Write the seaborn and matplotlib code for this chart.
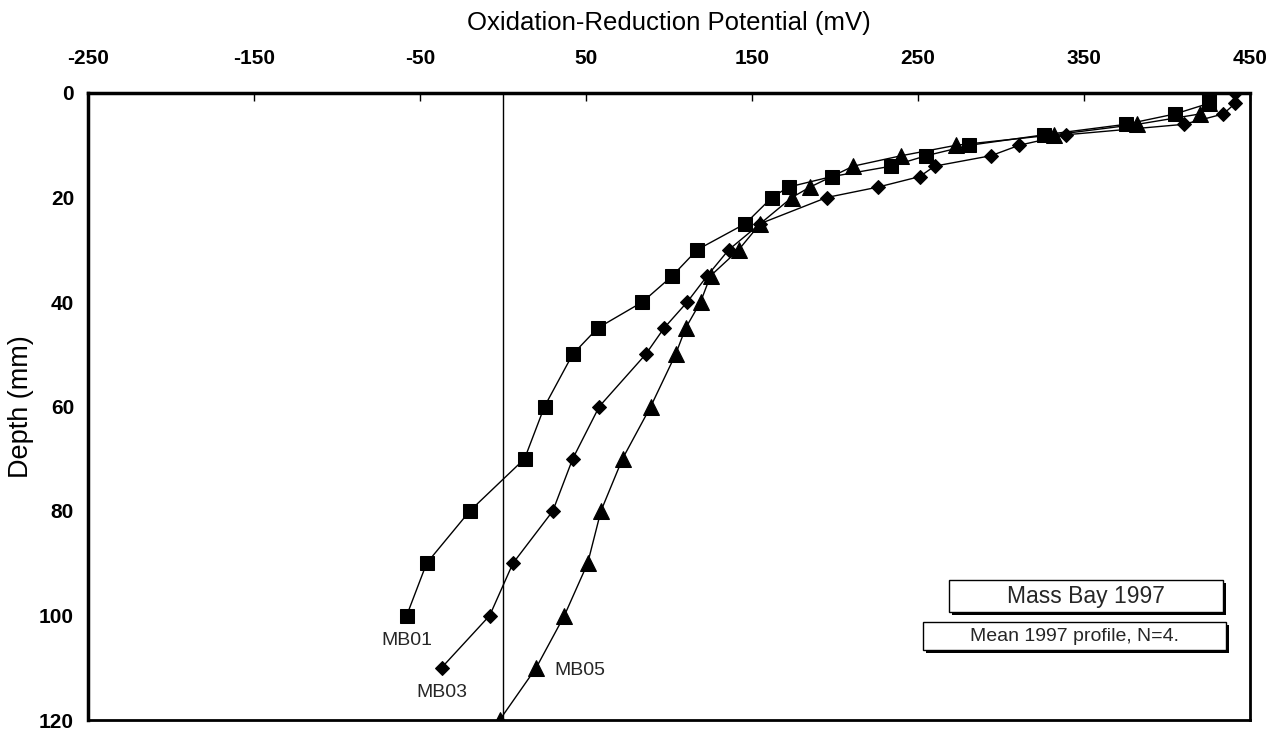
import matplotlib
matplotlib.use("Agg")
import matplotlib.pyplot as plt
import matplotlib.patches as mpatches
import seaborn as sns
import pandas as pd

# ---- data ----
mb01_depth = [0, 2, 4, 6, 8, 10, 12, 14, 16, 18, 20, 25, 30, 35, 40, 45, 50, 60, 70, 80, 90, 100]
mb01_orp = [425, 425, 405, 375, 326, 281, 255, 234, 198, 172, 162, 146, 117, 102, 84, 57, 42, 25, 13, -20, -46, -58]

mb03_depth = [0, 2, 4, 6, 8, 10, 12, 14, 16, 18, 20, 25, 30, 35, 40, 45, 50, 60, 70, 80, 90, 100, 110]
mb03_orp = [441, 441, 434, 410, 339, 311, 294, 260, 251, 226, 195, 155, 136, 123, 111, 97, 86, 58, 42, 30, 6, -8, -37]

mb05_depth = [2, 4, 6, 8, 10, 12, 14, 18, 20, 25, 30, 35, 40, 45, 50, 60, 70, 80, 90, 100, 110, 120]
mb05_orp = [425, 420, 382, 332, 273, 240, 211, 185, 174, 155, 142, 125, 119, 110, 104, 89, 72, 59, 51, 37, 20, -2]

site_names = ["MB01", "MB03", "MB05"]
x_ticks = [-250, -150, -50, 50, 150, 250, 350, 450]
y_ticks = [0, 20, 40, 60, 80, 100, 120]
x_label = "Oxidation-Reduction Potential (mV)"
y_label = "Depth (mm)"
title_box = "Mass Bay 1997"
sub_box = "Mean 1997 profile, N=4."

frames = []
for name, d, v in zip(site_names, [mb01_depth, mb03_depth, mb05_depth],
                      [mb01_orp, mb03_orp, mb05_orp]):
    frames.append(pd.DataFrame({"site": name, "depth": d, "orp": v}))
df = pd.concat(frames, ignore_index=True)

sns.set_theme(style="white")
plt.rcParams["font.family"] = ["Liberation Sans", "DejaVu Sans"]

fig = plt.figure(figsize=(12.82, 7.31), dpi=100)
ax = fig.add_axes([88 / 1282, 1 - 720 / 731, 1162 / 1282, 627 / 731])

styles = {"MB01": ("s", 10.5), "MB03": ("D", 7.5), "MB05": ("^", 11)}
for name in site_names:
    sub = df[df["site"] == name]
    mk, ms = styles[name]
    sns.lineplot(data=sub, x="orp", y="depth", sort=False, estimator=None,
                 color="black", linewidth=1.0, marker=mk, markersize=ms,
                 markeredgecolor="black", markerfacecolor="black", ax=ax,
                 legend=False)

ax.axvline(0, color="black", linewidth=1.0)

ax.set_xlim(-250, 450)
ax.set_ylim(120, 0)
ax.xaxis.tick_top()
ax.xaxis.set_label_position("top")
ax.set_xticks(x_ticks)
ax.set_yticks(y_ticks)
ax.set_xticklabels([str(t) for t in x_ticks], fontsize=15, fontweight="bold")
ax.set_yticklabels([str(t) for t in y_ticks], fontsize=15, fontweight="bold")
ax.tick_params(axis="x", direction="in", length=6, width=1, pad=18, colors="black")
ax.tick_params(axis="y", direction="in", length=6, width=1, pad=10, colors="black")
ax.set_xlabel(x_label, fontsize=18.5, labelpad=14, color="black")
ax.set_ylabel(y_label, fontsize=19.5, labelpad=4, color="black")
for side in ["left", "top"]:
    ax.spines[side].set_linewidth(2.5)
for side in ["right", "bottom"]:
    ax.spines[side].set_linewidth(2.0)
for s in ax.spines.values():
    s.set_color("black")
    s.set_visible(True)

# series labels
ax.text(-58, 104.8, "MB01", fontsize=14, ha="center", va="center")
ax.text(-37, 114.8, "MB03", fontsize=14, ha="center", va="center")
ax.text(31, 110.5, "MB05", fontsize=14, ha="left", va="center")

# boxed notes with shadows
def shadow_box(x0, y0, x1, y1, text, fs):
    dx, dy = 3 / 1162, 3 / 627
    ax.add_patch(mpatches.Rectangle((x0 + dx, y0 - dy), x1 - x0, y1 - y0,
                                    transform=ax.transAxes, facecolor="black",
                                    edgecolor="none", zorder=5, clip_on=False))
    ax.add_patch(mpatches.Rectangle((x0, y0), x1 - x0, y1 - y0,
                                    transform=ax.transAxes, facecolor="white",
                                    edgecolor="black", linewidth=1.0, zorder=6,
                                    clip_on=False))
    ax.text((x0 + x1) / 2, (y0 + y1) / 2, text, transform=ax.transAxes,
            fontsize=fs, ha="center", va="center", zorder=7)

shadow_box(0.741, 0.1722, 0.977, 0.2233, title_box, 16.5)
shadow_box(0.7186, 0.1116, 0.9793, 0.1563, sub_box, 14)

fig.savefig("out.png", dpi=100)
